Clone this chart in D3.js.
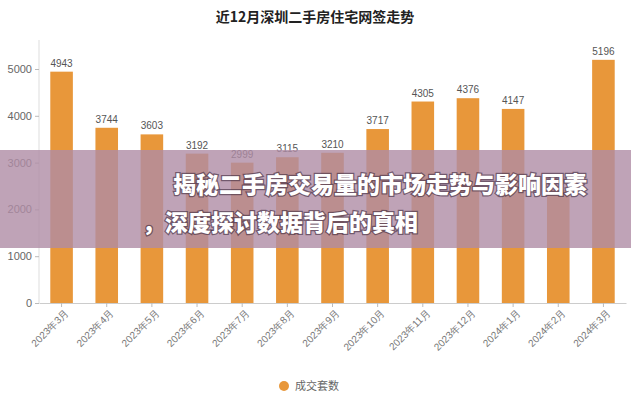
<!DOCTYPE html><html><head><meta charset="utf-8"><script src="https://cdn.jsdelivr.net/npm/d3@7"></script>
<style>body{margin:0;background:#fff}svg{font-family:"Noto Sans CJK SC","Noto Sans",sans-serif}</style></head><body><svg width="631" height="400"></svg>
<script>
const categories=["2023年3月","2023年4月","2023年5月","2023年6月","2023年7月","2023年8月","2023年9月","2023年10月","2023年11月","2023年12月","2024年1月","2024年2月","2024年3月"];
const values=[4943,3744,3603,3192,2999,3115,3210,3717,4305,4376,4147,2420,5196];
const yTicks=[0,1000,2000,3000,4000,5000];
const svg=d3.select("svg");
const x=d3.scaleBand().domain(categories).range([39,626]).paddingInner(0.5).paddingOuter(0.25);
const y=d3.scaleLinear().domain([0,5000]).range([303,69]);
const col="#e8973a";
svg.append("text").attr("x",315).attr("y",22).attr("text-anchor","middle").attr("font-size",14).attr("font-weight","bold").attr("fill","#222").text("近12月深圳二手房住宅网签走势");
const ya=svg.append("g").attr("transform","translate(39,0)").call(d3.axisLeft(y).tickValues(yTicks).tickFormat(d3.format("d")).tickSize(4).tickSizeOuter(0));
ya.select(".domain").attr("stroke","#ddd").attr("d","M0,303V40");ya.selectAll("line").attr("stroke","#bbb");
ya.selectAll("text").attr("fill","#666").attr("font-size",11).attr("font-family","Liberation Sans, sans-serif");
svg.selectAll(".bar").data(values).join("rect").attr("x",(d,i)=>x(categories[i])).attr("width",x.bandwidth()).attr("y",d=>y(d)).attr("height",d=>y(0)-y(d)).attr("fill",col);
svg.selectAll(".lbl").data(values).join("text").attr("x",(d,i)=>x(categories[i])+x.bandwidth()/2).attr("y",d=>y(d)-5).attr("text-anchor","middle").attr("font-size",10).attr("fill","#555").attr("font-family","Liberation Sans Narrow, sans-serif").text(d=>d);
const xa=svg.append("g").attr("transform","translate(0,"+y(0)+")").call(d3.axisBottom(x).tickSize(4).tickSizeOuter(0));
xa.select(".domain").attr("stroke","#ccc");xa.selectAll("line").attr("stroke","#bbb");
xa.selectAll("text").attr("fill","#777").attr("font-size",10).attr("text-anchor","end").attr("dx","-0.2em").attr("dy","0.6em").attr("transform","rotate(-45)");
svg.append("circle").attr("cx",284).attr("cy",386).attr("r",5).attr("fill",col);
svg.append("text").attr("x",295).attr("y",390).attr("font-size",11).attr("fill","#666").text("成交套数");
svg.append("rect").attr("x",0).attr("y",150).attr("width",631).attr("height",98).attr("fill","rgb(175,140,165)").attr("opacity",0.8);
const bt=svg.append("g").attr("font-size",23).attr("font-weight",900).attr("fill","#fff").style("paint-order","stroke").attr("stroke","rgba(60,40,60,0.6)").attr("stroke-width",2.5);
bt.append("text").attr("x",173).attr("y",193).text("揭秘二手房交易量的市场走势与影响因素");
bt.append("text").attr("x",142).attr("y",231).text("，深度探讨数据背后的真相");
</script></body></html>
